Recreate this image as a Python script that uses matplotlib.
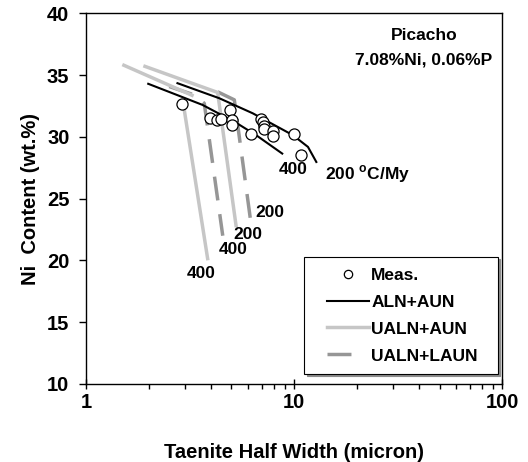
import numpy as np
import matplotlib
matplotlib.use("Agg")
import matplotlib.pyplot as plt
from matplotlib.lines import Line2D
from matplotlib.legend_handler import HandlerLine2D
from matplotlib.ticker import FixedLocator, LogLocator, NullFormatter

plt.rcParams['font.family'] = ['Liberation Sans', 'DejaVu Sans']
plt.rcParams['font.weight'] = 'bold'
plt.rcParams['mathtext.fontset'] = 'custom'
plt.rcParams['mathtext.bf'] = 'Liberation Sans:bold'
plt.rcParams['mathtext.rm'] = 'Liberation Sans:bold'

# measured taenite half widths (micron) and Ni contents (wt.%)
meas_w = [2.88, 3.95, 4.25, 4.45, 4.90, 5.03, 5.03, 6.20, 6.90, 7.05, 7.20, 7.15, 7.90, 7.92, 10.0, 10.75]
meas_ni = [32.65, 31.50, 31.40, 31.45, 32.15, 31.35, 30.95, 30.22, 31.43, 31.22, 30.85, 30.60, 30.45, 30.10, 30.22, 28.50]

# ALN+AUN model curves
aln_400_w = [1.99, 3.63, 5.26, 6.57, 8.77]
aln_400_ni = [34.30, 32.59, 31.15, 30.14, 28.65]
aln_200_w = [2.75, 4.37, 6.33, 9.87, 11.66, 12.79]
aln_200_ni = [34.35, 33.13, 31.91, 30.14, 29.19, 27.97]

# UALN+AUN model curves (nan splits the two branches)
ualn_400_w = [1.52, 3.23, np.nan, 2.92, 3.84]
ualn_400_ni = [35.80, 33.37, np.nan, 32.90, 20.15]
ualn_200_w = [1.92, 4.29, 5.26]
ualn_200_ni = [35.71, 33.60, 22.82]

# UALN+LAUN model curves
laun_400_w = [2.51, 3.31, 3.70, 4.54]
laun_400_ni = [34.08, 33.40, 32.72, 22.00]
laun_200_w = [4.29, 5.16, 6.21]
laun_200_ni = [33.65, 33.00, 22.95]

fig = plt.figure(figsize=(5.28, 4.62), dpi=100)
ax = fig.add_axes([0.163, 0.169, 0.788, 0.802])

light = '#c6c6c6'
dark = '#969696'
dash = (6.9, 4.0)
ax.plot(laun_400_w, laun_400_ni, color=dark, lw=2.5, dashes=dash)
ax.plot(laun_200_w, laun_200_ni, color=dark, lw=2.5, dashes=dash)
ax.plot(ualn_400_w, ualn_400_ni, color=light, lw=2.5)
ax.plot(ualn_200_w, ualn_200_ni, color=light, lw=2.5)
ax.plot(aln_400_w, aln_400_ni, color='black', lw=1.5)
ax.plot(aln_200_w, aln_200_ni, color='black', lw=1.5)
ax.plot(meas_w, meas_ni, 'o', ms=8, mfc='white', mec='black', mew=0.9)

# legend proxies (trailing spaces widen the box a little)
h_meas, = ax.plot([], [], 'o', ms=8, mfc='white', mec='black', mew=0.9, label='Meas.')
h_aln, = ax.plot([], [], color='black', lw=1.5, label='ALN+AUN')
h_ualn, = ax.plot([], [], color=light, lw=2.5, label='UALN+AUN')
h_laun, = ax.plot([], [], color=dark, lw=2.5, dashes=(6.9, 20), label='UALN+LAUN  ')

ax.set_xscale('log')
ax.set_xlim(1, 100)
ax.set_ylim(10, 40)
ax.xaxis.set_major_locator(FixedLocator([1, 10, 100]))
ax.xaxis.set_major_formatter(plt.FuncFormatter(lambda v, p: '%g' % v))
ax.xaxis.set_minor_locator(LogLocator(base=10, subs=np.arange(2, 10)))
ax.xaxis.set_minor_formatter(NullFormatter())
ax.set_yticks(np.arange(10, 41, 5))

ax.tick_params(axis='x', which='major', direction='inout', length=7, width=1, labelsize=14.5, pad=3)
ax.tick_params(axis='x', which='minor', direction='out', length=3.5, width=1)
ax.tick_params(axis='y', which='major', direction='out', length=5, width=1, labelsize=14.5, pad=7)
for s in ax.spines.values():
    s.set_linewidth(1)

ax.set_xlabel('Taenite Half Width (micron)', fontsize=14.5, fontweight='bold', labelpad=22)
ax.set_ylabel('Ni  Content (wt.%)', fontsize=14.5, fontweight='bold', labelpad=5)

# cooling rate labels
ax.text(9.95, 27.35, '400', fontsize=12.5, ha='center', va='center')
ax.text(14.06, 27.0, r'200 $^{\mathbf{o}}$C/My', fontsize=12.5, ha='left', va='center')
ax.text(7.62, 23.86, '200', fontsize=12.5, ha='center', va='center')
ax.text(5.97, 22.09, '200', fontsize=12.5, ha='center', va='center')
ax.text(5.09, 20.87, '400', fontsize=12.5, ha='center', va='center')
ax.text(3.57, 18.97, '400', fontsize=12.5, ha='center', va='center')

ax.text(0.8125, 0.94, 'Picacho', transform=ax.transAxes, fontsize=12.5, ha='center', va='center')
ax.text(0.8125, 0.874, '7.08%Ni, 0.06%P', transform=ax.transAxes, fontsize=12.5, ha='center', va='center')

leg = ax.legend(handles=[h_meas, h_aln, h_ualn, h_laun], loc='lower right',
                bbox_to_anchor=(0.99, 0.027), borderaxespad=0, fontsize=12.5,
                frameon=True, fancybox=False, edgecolor='black', markerscale=0.75,
                handlelength=3.1, handletextpad=0.15, borderpad=0.6, labelspacing=0.68,
                handler_map={Line2D: HandlerLine2D(xpad=0.7)},
                shadow={'color': '0.55', 'alpha': 1, 'ox': 1.5, 'oy': -1.5})
leg.get_frame().set_linewidth(0.8)

fig.savefig('out.png', dpi=100)
